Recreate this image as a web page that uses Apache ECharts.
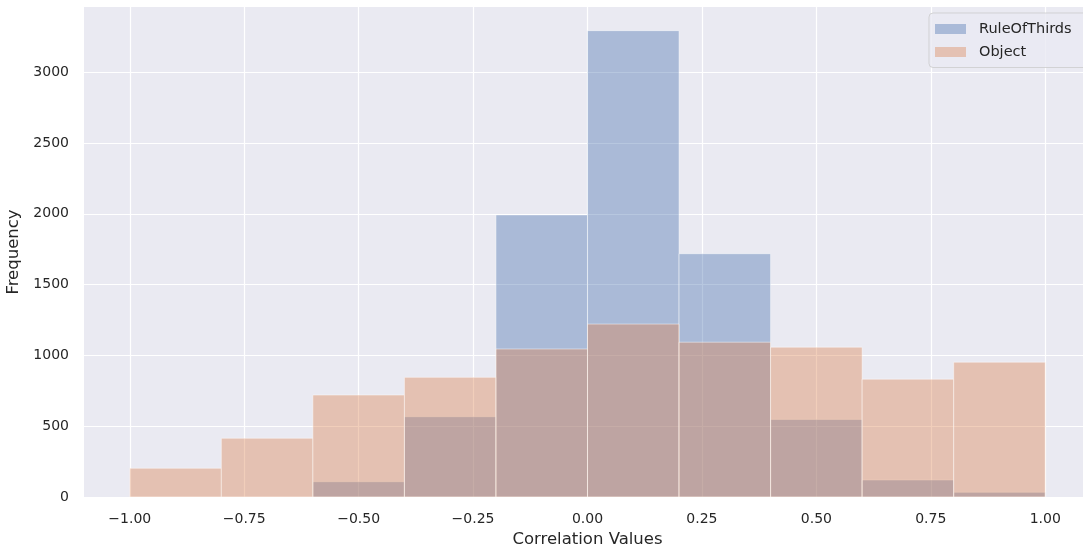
<!DOCTYPE html>
<html>
<head>
<meta charset="utf-8">
<script src="https://cdn.jsdelivr.net/npm/echarts@6/dist/echarts.min.js"></script>
<style>html,body{margin:0;padding:0;background:#fff}#c{width:1083px;height:546px}</style>
</head>
<body>
<div id="c"></div>
<script>
// Histogram bin edges (Correlation Values)
const binStarts = [-1.0, -0.8, -0.6, -0.4, -0.2, 0.0, 0.2, 0.4, 0.6, 0.8];
const binEnds   = [-0.8, -0.6, -0.4, -0.2, 0.0, 0.2, 0.4, 0.6, 0.8, 1.0];
// Frequencies
const ruleOfThirds = [0, 0, 108, 567, 1992, 3293, 1718, 548, 120, 33];
const objectVals   = [203, 415, 720, 845, 1045, 1221, 1093, 1058, 832, 952];
// Tick labels
const xTicks = [-1.0, -0.75, -0.5, -0.25, 0.0, 0.25, 0.5, 0.75, 1.0];
const yTicks = [0, 500, 1000, 1500, 2000, 2500, 3000];
const seriesNames = ['RuleOfThirds', 'Object'];

const BLUE = 'rgba(76,114,176,0.4)';
const ORANGE = 'rgba(221,132,82,0.4)';
const TXT = '#262626';
const FONT = 'DejaVu Sans';

function toData(vals) {
  return vals.map((v, i) => [binStarts[i], binEnds[i], v]);
}
function renderBar(color) {
  return function (params, api) {
    const x0 = api.value(0), x1 = api.value(1), y = api.value(2);
    const p0 = api.coord([x0, y]);
    const p1 = api.coord([x1, 0]);
    return {
      type: 'rect',
      shape: { x: p0[0], y: p0[1], width: p1[0] - p0[0], height: p1[1] - p0[1] },
      style: { fill: color, stroke: 'rgba(255,255,255,0.45)', lineWidth: 1 }
    };
  };
}
function fmtX(v) {
  const s = Math.abs(v).toFixed(2);
  return (v < -1e-9 ? '\u2212' : '') + s;
}

const chart = echarts.init(document.getElementById('c'), null, { renderer: 'canvas' });
chart.setOption({
  animation: false,
  backgroundColor: '#ffffff',
  textStyle: { fontFamily: FONT },
  grid: {
    left: 84, top: 7, width: 1007, height: 490,
    containLabel: false,
    outerBoundsMode: 'none',
    show: true, backgroundColor: '#EAEAF2', borderWidth: 0
  },
  legend: {
    orient: 'vertical',
    left: 929, top: 13,
    backgroundColor: 'rgba(234,234,242,0.8)',
    borderColor: 'rgba(204,204,204,0.8)',
    borderWidth: 1,
    borderRadius: 4,
    padding: [7.5, 30, 7, 6],
    itemWidth: 31, itemHeight: 10, itemGap: 6,
    icon: 'rect',
    textStyle: { fontFamily: FONT, fontSize: 14.5, color: TXT, lineHeight: 17, padding: [0, 0, 0, 8] },
    data: seriesNames
  },
  xAxis: {
    type: 'value',
    min: -1.1, max: 1.1,
    name: 'Correlation Values',
    nameLocation: 'middle',
    nameGap: 32,
    nameTextStyle: { fontFamily: FONT, fontSize: 16.5, color: TXT },
    axisLine: { show: false },
    axisTick: { show: false, customValues: xTicks },
    axisLabel: {
      customValues: xTicks,
      formatter: fmtX,
      fontFamily: FONT, fontSize: 14, color: TXT, margin: 15
    },
    splitLine: { show: true, lineStyle: { color: '#ffffff', width: 1.2 } }
  },
  yAxis: {
    type: 'value',
    min: 0, max: 3460, interval: 500,
    name: 'Frequency',
    nameLocation: 'middle',
    nameGap: 54,
    nameTextStyle: { fontFamily: FONT, fontSize: 16.5, color: TXT },
    axisLine: { show: false },
    axisTick: { show: false, customValues: yTicks },
    axisLabel: {
      customValues: yTicks,
      formatter: function (v) { return String(v); },
      fontFamily: FONT, fontSize: 14, color: TXT, margin: 15
    },
    splitLine: { show: true, lineStyle: { color: '#ffffff', width: 1.2 } }
  },
  series: [
    {
      name: seriesNames[0],
      type: 'custom',
      renderItem: renderBar(BLUE),
      itemStyle: { color: BLUE },
      encode: { x: [0, 1], y: 2 },
      data: toData(ruleOfThirds),
      z: 2
    },
    {
      name: seriesNames[1],
      type: 'custom',
      renderItem: renderBar(ORANGE),
      itemStyle: { color: ORANGE },
      encode: { x: [0, 1], y: 2 },
      data: toData(objectVals),
      z: 3
    }
  ]
});
</script>
</body>
</html>
